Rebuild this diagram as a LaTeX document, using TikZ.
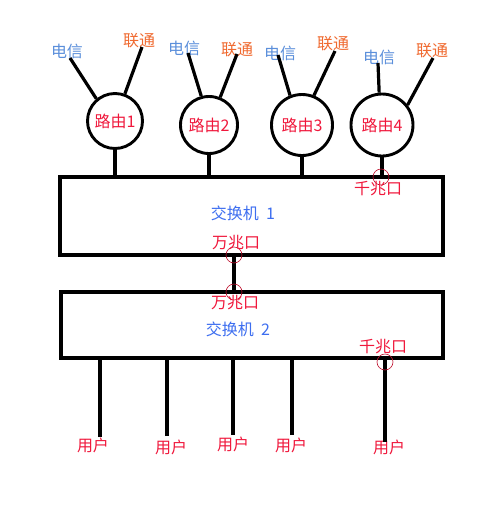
\documentclass[tikz,border=0pt]{standalone}
\usepackage{fontspec}
\setmainfont{Noto Sans CJK SC}
\begin{document}
\begin{tikzpicture}[x=1pt,y=-1pt,
  wire/.style={line width=3.2pt,black},
  router/.style={circle,draw=black,line width=2.9pt,fill=white,inner sep=0pt},
  switchbox/.style={draw=black,line width=3.2pt,inner sep=0pt},
  rtxt/.style={text=myred,font=\fontsize{16}{16}\selectfont,inner sep=0pt},
  btxt/.style={text=myblue,font=\fontsize{16}{16}\selectfont,inner sep=0pt},
  ltxt/.style={text=mylblue,font=\fontsize{16}{16}\selectfont,inner sep=0pt},
  otxt/.style={text=myorange,font=\fontsize{16}{16}\selectfont,inner sep=0pt},
  port/.style={circle,draw=myred!80!black,line width=0.6pt,minimum size=16pt,inner sep=0pt}
]
\definecolor{myred}{HTML}{F0183C}
\definecolor{myblue}{HTML}{3D6EF0}
\definecolor{mylblue}{HTML}{5B8FDB}
\definecolor{myorange}{HTML}{F06A30}
\useasboundingbox (0,0) rectangle (500,515);
\fill[white] (0,0) rectangle (500,515);

% switches
\node[switchbox,minimum width=383pt,minimum height=78pt] (sw1) at (251.5,216) {};
\node[switchbox,minimum width=382pt,minimum height=66pt] (sw2) at (252,325) {};
\node[btxt] (sw1t) at (243,213) {交换机\ \ 1};
\node[btxt] (sw2t) at (238,329) {交换机\ \ 2};

% routers
\node[router,minimum size=55pt] (r1) at (115,121) {};
\node[router,minimum size=57pt] (r2) at (209,125) {};
\node[router,minimum size=61pt] (r3) at (302,125) {};
\node[router,minimum size=62pt] (r4) at (382,125) {};
\node[rtxt] at (r1) {路由1};
\node[rtxt] at (r2) {路由2};
\node[rtxt] at (r3) {路由3};
\node[rtxt] at (r4) {路由4};

% ISP labels
\node[ltxt] (d1) at (67,51) {电信};
\node[otxt] (l1) at (139,41) {联通};
\node[ltxt] (d2) at (184,48) {电信};
\node[otxt] (l2) at (237,50) {联通};
\node[ltxt] (d3) at (280,53) {电信};
\node[otxt] (l3) at (333,44) {联通};
\node[ltxt] (d4) at (379,57) {电信};
\node[otxt] (l4) at (432,51) {联通};

\coordinate (d1e) at (70,58);  \coordinate (l1e) at (142,47);
\coordinate (d2e) at (188,53); \coordinate (l2e) at (237,54);
\coordinate (d3e) at (278,55); \coordinate (l3e) at (335,51);
\coordinate (d4e) at (378,63); \coordinate (l4e) at (433,58);

\draw[wire] (d1e) -- (r1.130);
\draw[wire] (l1e) -- (r1.70);
\draw[wire] (d2e) -- (r2.105);
\draw[wire] (l2e) -- (r2.68);
\draw[wire] (d3e) -- (r3.112);
\draw[wire] (l3e) -- (r3.68);
\draw[wire] (d4e) -- (r4.95);
\draw[wire] (l4e) -- (r4.38);

% router to switch
\draw[wire] (r1.south) -- (r1.south |- sw1.north);
\draw[wire] (r2.south) -- (r2.south |- sw1.north);
\draw[wire] (r3.south) -- (r3.south |- sw1.north);
\draw[wire] (r4.south) -- (r4.south |- sw1.north);

% ports
\node[port] (p4) at (381,177) {};
\node[rtxt] (p4t) at (378,189) {千兆口};
\coordinate (uplinkTop) at (234,255);
\coordinate (uplinkBot) at (234,292);
\draw[wire] (uplinkTop) -- (uplinkBot);
\node[port] (pu1) at (uplinkTop) {};
\node[port] (pu2) at (uplinkBot) {};
\node[rtxt] (pu1t) at (236,243) {万兆口};
\node[rtxt] (pu2t) at (235,303) {万兆口};
\node[rtxt] (p5t) at (383,347) {千兆口};

% users
\node[rtxt] (u1) at (93,445) {用户};
\node[rtxt] (u2) at (171,447) {用户};
\node[rtxt] (u3) at (233,444) {用户};
\node[rtxt] (u4) at (291,445) {用户};
\node[rtxt] (u5) at (389,447) {用户};
\coordinate (u1e) at (100,437);
\coordinate (u2e) at (167,436);
\coordinate (u3e) at (233,435);
\coordinate (u4e) at (292,435);
\coordinate (u5e) at (385,442);
\draw[wire] (u1e) -- (u1e |- sw2.south);
\draw[wire] (u2e) -- (u2e |- sw2.south);
\draw[wire] (u3e) -- (u3e |- sw2.south);
\draw[wire] (u4e) -- (u4e |- sw2.south);
\draw[wire] (u5e) -- (u5e |- sw2.south);
\node[port] (p5) at (385,362) {};
\end{tikzpicture}
\end{document}
